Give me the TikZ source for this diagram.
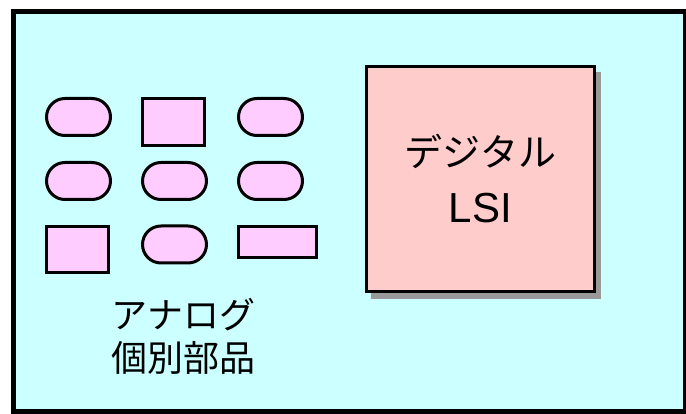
\documentclass[tikz,border=0pt]{standalone}
\usepackage{fontspec}
\setmainfont{Noto Sans CJK JP}
\newfontfamily\latinsans{Liberation Sans}
\usetikzlibrary{shapes.misc}
\definecolor{bgcyan}{HTML}{CCFFFF}
\definecolor{partpink}{HTML}{FFCCFF}
\definecolor{lsipink}{HTML}{FFCCCC}
\definecolor{shadowgray}{HTML}{999999}
\tikzset{
  part/.style={draw=black, fill=partpink, line width=3pt, inner sep=0pt},
  stadium/.style={part, rounded rectangle, minimum width=64pt, minimum height=37pt},
  partbox/.style={part, rectangle},
  lsibox/.style={draw=black, fill=lsipink, line width=2.5pt, rectangle, inner sep=0pt,
    minimum width=228pt, minimum height=225pt},
  label/.style={align=center, inner sep=0pt}
}
\begin{document}
\begin{tikzpicture}[x=1pt,y=-1pt]
\useasboundingbox (0,0) rectangle (686,414);
\draw[line width=5pt, fill=bgcyan] (13.5,11.5) rectangle (685.5,411.5);
% parts
\node[stadium] (s11) at (78.5,117) {};
\node[partbox, minimum width=62pt, minimum height=47pt] (r12) at (173.5,122) {};
\node[stadium] (s13) at (270.5,117) {};
\node[stadium] (s21) at (78.5,181) {};
\node[stadium] (s22) at (174.5,181) {};
\node[stadium] (s23) at (270.5,181) {};
\node[partbox, minimum width=62pt, minimum height=46pt] (r31) at (77.5,249.5) {};
\node[stadium] (s32) at (174.5,244.5) {};
\node[partbox, minimum width=78pt, minimum height=31pt] (r33) at (277.5,242) {};
% label
\node[label, font=\fontsize{36}{43}\selectfont] (analog) at (183.5,336) {アナログ\\個別部品};
% LSI shadow and box
\fill[shadowgray] (371,72) rectangle (601,299);
\node[lsibox, label, font=\fontsize{38}{56}\selectfont] (lsi) at (480.5,179) {デジタル\\{\latinsans\fontsize{42}{56}\selectfont LSI}};
\end{tikzpicture}
\end{document}
